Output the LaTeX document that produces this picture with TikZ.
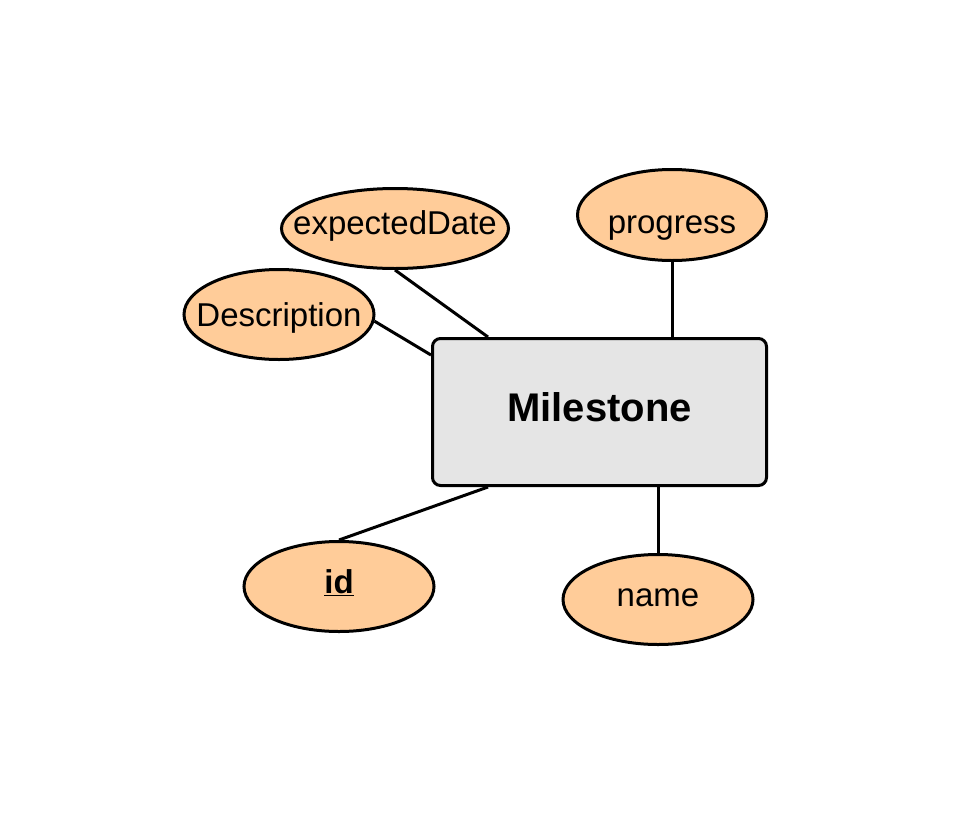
\documentclass[tikz,border=0pt]{standalone}
\usepackage{fontspec}
\setmainfont{Liberation Sans}
\usetikzlibrary{shapes.geometric,positioning}
\definecolor{attrorange}{RGB}{255,204,153}
\definecolor{entitygray}{RGB}{229,229,229}

\begin{document}
\begin{tikzpicture}[x=1pt, y=-1pt, line width=3pt,
	every node/.style={font=\fontsize{33}{40}\selectfont},
    attr/.style={ellipse, draw, fill=attrorange, inner xsep=-30pt, inner ysep=0pt,
      minimum width=190pt, minimum height=90pt, text height=23.6pt, text depth=0pt},
    entity/.style={rectangle, draw, fill=entitygray, rounded corners=8pt,
      minimum width=334pt, minimum height=147pt, text height=18.6pt, text depth=0pt,
      font=\fontsize{40}{48}\selectfont\bfseries}
    ]
\useasboundingbox (0,0) rectangle (955,817);
% entity
\node[entity] (milestone) at (599.5,412) {Milestone};
% attributes
\node[attr, minimum width=227pt, minimum height=80pt, text height=11.6pt] (expectedDate) at (395,228.5) {expectedDate};
\node[attr, minimum width=189pt, minimum height=91pt, text height=36.6pt] (progress) at (672,215) {progress};
\node[attr] (description) at (279,314.5) {Description};
\node[attr, text height=13.6pt] (id) at (339,586.5) {\textbf{\underline{id}}};
\node[attr, text height=14.6pt] (name) at (658,599.5) {name};

\draw (expectedDate.south) -- ([xshift=57pt]milestone.north west);
\draw (progress.south) -- (progress.south |- milestone.north);
\draw (description.-4) -- ([yshift=-18pt]milestone.north west);
\draw (id.north) -- ([xshift=57pt]milestone.south west);
\draw (name.north) -- (name.north |- milestone.south);
\end{tikzpicture}
\end{document}
